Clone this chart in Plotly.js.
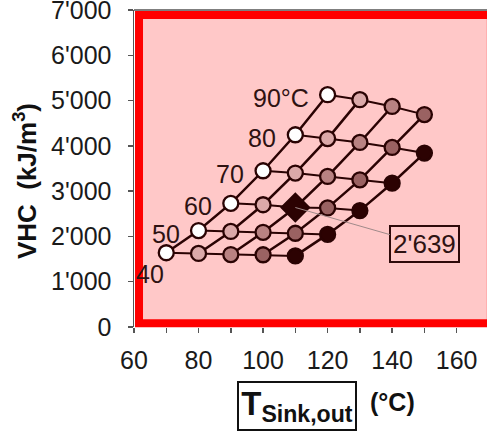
<!DOCTYPE html>
<html>
<head>
<meta charset="utf-8">
<script src="https://cdn.plot.ly/plotly-3.0.1.min.js"></script>
<style>html,body{margin:0;padding:0;background:#fff;}#chart{width:487px;height:433px;}</style>
</head>
<body>
<div id="chart"></div>
<script>
// ---- data ----
const sourceTemps = [40, 50, 60, 70, 80, 90];          // °C (row labels)
const liftSteps = [30, 40, 50, 60, 70];                // K, T_sink,out = source + lift
const vhcSource40 = [1640, 1625, 1600, 1595, 1570];
const vhcSource50 = [2130, 2110, 2090, 2070, 2045];
const vhcSource60 = [2730, 2700, 2639, 2630, 2570];
const vhcSource70 = [3450, 3400, 3325, 3250, 3175];
const vhcSource80 = [4245, 4160, 4075, 3965, 3840];
const vhcSource90 = [5130, 5020, 4870, 4690];
const sourceLabels = ['40', '50', '60', '70', '80', '90°C'];
const highlightSource = 60;
const highlightLift = 50;
const highlightLabel = "2'639";
const xTickVals = [60, 70, 80, 90, 100, 110, 120, 130, 140, 150, 160];
const xTickText = ['60', '', '80', '', '100', '', '120', '', '140', '', '160'];
const yTickVals = [0, 1000, 2000, 3000, 4000, 5000, 6000, 7000];
const yTickText = ['0', "1'000", "2'000", "3'000", "4'000", "5'000", "6'000", "7'000"];

// ---- styles ----
const FONT = 'Liberation Sans, Arial, sans-serif';
const LINE = '#2a0303';
const liftColors = ['#ffffff', '#dba9a9', '#b98282', '#9a6262', '#2c0202'];

const rows = [vhcSource40, vhcSource50, vhcSource60, vhcSource70, vhcSource80, vhcSource90];
const traces = [];

// lines of constant source temperature
rows.forEach((vals, i) => {
  traces.push({
    x: vals.map((v, j) => sourceTemps[i] + liftSteps[j]),
    y: vals, mode: 'lines', line: {color: LINE, width: 2}, hoverinfo: 'skip'
  });
});
// lines of constant lift
liftSteps.forEach((lift, j) => {
  const xs = [], ys = [];
  rows.forEach((vals, i) => { if (j < vals.length) { xs.push(sourceTemps[i] + lift); ys.push(vals[j]); } });
  traces.push({x: xs, y: ys, mode: 'lines', line: {color: LINE, width: 2.5}, hoverinfo: 'skip'});
});
// markers
let hx = null, hy = null;
liftSteps.forEach((lift, j) => {
  const xs = [], ys = [], sym = [], sz = [], col = [];
  rows.forEach((vals, i) => {
    if (j < vals.length) {
      xs.push(sourceTemps[i] + lift); ys.push(vals[j]);
      const hl = sourceTemps[i] === highlightSource && lift === highlightLift;
      if (hl) { hx = sourceTemps[i] + lift; hy = vals[j]; }
      sym.push(hl ? 'diamond' : 'circle');
      sz.push(hl ? 21 : 15);
      col.push(hl ? '#2c0202' : liftColors[j]);
    }
  });
  traces.push({
    x: xs, y: ys, mode: 'markers', opacity: 1,
    marker: {symbol: sym, size: sz, color: col, opacity: 1, line: {color: LINE, width: 2.3}}
  });
});

const annotations = [];
// row labels at the leftmost point of each source-temperature line
rows.forEach((vals, i) => {
  const first = i === 0;
  annotations.push({
    x: sourceTemps[i] + liftSteps[0], y: vals[0], xref: 'x', yref: 'y',
    text: sourceLabels[i], showarrow: false,
    xanchor: 'right', yanchor: 'middle',
    xshift: first ? 0 : -17, yshift: first ? -21 : -3,
    font: {family: FONT, size: 25, color: '#2e1212'}
  });
});
// highlighted value
annotations.push({
  x: hx, y: hy, xref: 'x', yref: 'y', text: highlightLabel,
  showarrow: true, arrowhead: 0, arrowwidth: 1, arrowcolor: '#a08a8a',
  ax: 129, ay: 37, standoff: 0,
  bordercolor: '#2e0a0a', borderwidth: 2, borderpad: 2, bgcolor: 'rgba(0,0,0,0)',
  font: {family: FONT, size: 26, color: '#2e1212'}
});
// y-axis title
annotations.push({
  xref: 'paper', yref: 'paper', x: -0.309, y: 0.46, textangle: -90,
  xanchor: 'center', yanchor: 'middle', showarrow: false,
  text: '<b>VHC\u00a0 (kJ/m<sup>3</sup>)</b>',
  font: {family: FONT, size: 26, color: '#111'}
});
// x-axis title (boxed) and unit
annotations.push({
  xref: 'paper', yref: 'paper', x: 0.4618, y: -0.2504,
  xanchor: 'center', yanchor: 'middle', showarrow: false,
  text: '<b>T<sub>Sink,out</sub></b>',
  width: 114, height: 44, borderpad: 1,
  bordercolor: '#111', borderwidth: 2,
  font: {family: FONT, size: 33, color: '#111'}
});
annotations.push({
  xref: 'paper', yref: 'paper', x: 0.731, y: -0.2378,
  xanchor: 'center', yanchor: 'middle', showarrow: false,
  text: '<b>(°C)</b>',
  font: {family: FONT, size: 25, color: '#111'}
});

const layout = {
  width: 487, height: 433,
  margin: {l: 134, r: 0, t: 10, b: 106, pad: 0},
  paper_bgcolor: '#ffffff', plot_bgcolor: '#ffffff',
  showlegend: false,
  xaxis: {
    range: [60, 169.4], tickmode: 'array', tickvals: xTickVals, ticktext: xTickText,
    ticks: 'outside', ticklen: 5, tickwidth: 1.5, tickcolor: '#555',
    showline: false, showgrid: false, zeroline: false, ticklabeloverflow: 'allow',
    tickfont: {family: FONT, size: 25, color: '#1a1a1a'}, ticklabelstandoff: 6
  },
  yaxis: {
    range: [0, 7000], tickmode: 'array', tickvals: yTickVals, ticktext: yTickText,
    ticks: 'outside', ticklen: 5, tickwidth: 1.5, tickcolor: '#555',
    showline: true, linecolor: '#555', linewidth: 1.5, ticklabeloverflow: 'allow',
    showgrid: false, zeroline: false,
    tickfont: {family: FONT, size: 25, color: '#1a1a1a'}, ticklabelstandoff: 11
  },
  shapes: [
    {type: 'rect', xref: 'paper', yref: 'paper', layer: 'below',
     x0: 0.0142, x1: 1.011, y0: 0.0117, y1: 0.984,
     line: {color: '#ff0000', width: 8}, fillcolor: '#ffc8c8'},
    {type: 'line', xref: 'paper', yref: 'paper', x0: 0, x1: 1, y0: 1, y1: 1,
     line: {color: '#555', width: 1.5}}
  ],
  annotations: annotations
};

Plotly.newPlot('chart', traces, layout, {displayModeBar: false, staticPlot: true});
</script>
</body>
</html>
